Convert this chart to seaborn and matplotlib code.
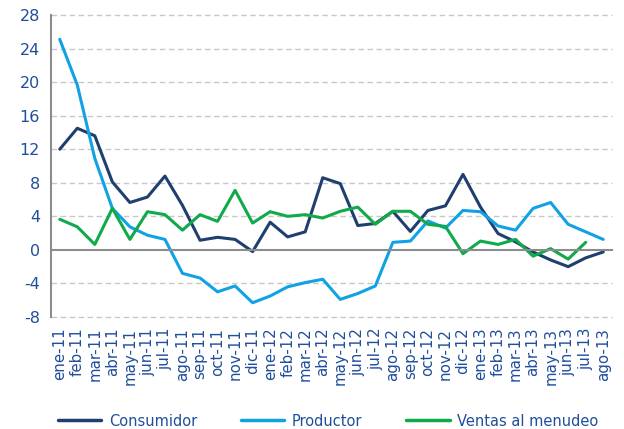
import matplotlib
matplotlib.use("Agg")
import matplotlib.pyplot as plt
import seaborn as sns
import pandas as pd
import numpy as np
from matplotlib.lines import Line2D

meses = ["ene-11", "feb-11", "mar-11", "abr-11", "may-11", "jun-11", "jul-11", "ago-11",
         "sep-11", "oct-11", "nov-11", "dic-11", "ene-12", "feb-12", "mar-12", "abr-12",
         "may-12", "jun-12", "jul-12", "ago-12", "sep-12", "oct-12", "nov-12", "dic-12",
         "ene-13", "feb-13", "mar-13", "abr-13", "may-13", "jun-13", "jul-13", "ago-13"]

consumidor = [12.0, 14.5, 13.6, 8.1, 5.65, 6.3, 8.8, 5.3, 1.15, 1.5, 1.25, -0.2,
              3.3, 1.55, 2.15, 8.6, 7.9, 2.9, 3.15, 4.6, 2.2, 4.7, 5.25, 9.0,
              5.1, 1.95, 0.95, -0.25, -1.2, -2.0, -0.95, -0.25]
productor = [25.1, 19.65, 10.9, 4.95, 2.75, 1.75, 1.25, -2.8, -3.35, -5.0, -4.3, -6.3,
             -5.5, -4.4, -3.9, -3.5, -5.9, -5.2, -4.3, 0.9, 1.05, 3.45, 2.6, 4.7,
             4.55, 2.85, 2.35, 4.95, 5.65, 3.05, 2.15, 1.25]
ventas = [3.65, 2.75, 0.65, 4.95, 1.25, 4.55, 4.2, 2.35, 4.2, 3.4, 7.1, 3.2,
          4.55, 4.0, 4.2, 3.8, 4.6, 5.1, 3.05, 4.6, 4.6, 3.05, 2.8, -0.45,
          1.05, 0.65, 1.25, -0.75, 0.15, -1.1, 0.9, np.nan]

series = ["Consumidor", "Productor", "Ventas al menudeo"]
colores = ["#1F3F6F", "#10A2E4", "#10AA4A"]
yticks = list(range(-8, 29, 4))

n = len(meses)
df = pd.DataFrame({
    "idx": list(range(n)) * 3,
    "valor": consumidor + productor + ventas,
    "serie": [series[0]] * n + [series[1]] * n + [series[2]] * n,
})

sns.set_style("white")
plt.rcParams["font.family"] = ["DejaVu Sans"]

fig = plt.figure(figsize=(6.24, 4.29), dpi=100)
ax = fig.add_axes([51 / 624, 1 - 317 / 429, (612 - 51) / 624, (317 - 15) / 429])

sns.lineplot(data=df, x="idx", y="valor", hue="serie", hue_order=series,
             palette=colores, linewidth=2.2, ax=ax, legend=False, sort=False)

ax.set_xlim(-0.5, n - 0.5)
ax.set_ylim(-8, 28)
ax.set_yticks(yticks)
ax.set_yticklabels([str(v) for v in yticks])
for y in yticks:
    if y != 0:
        ax.axhline(y, color="#C8C8C8", linestyle=(0, (4, 2.5)), linewidth=1.0,
                   zorder=0, clip_on=False)

tick_col = "#1F4E9C"
for s in ["top", "right"]:
    ax.spines[s].set_visible(False)
ax.spines["left"].set_color("#8C8C8C")
ax.spines["left"].set_linewidth(1.5)
ax.spines["bottom"].set_position(("data", 0))
ax.spines["bottom"].set_color("#8C8C8C")
ax.spines["bottom"].set_linewidth(1.5)

ax.set_xticks(range(n))
ax.set_xticklabels(meses, rotation=90, va="top", ha="center")
ax.set_xticks(np.arange(-0.5, n, 1.0), minor=True)
ax.tick_params(axis="x", which="major", length=0, pad=56, labelsize=10.8, labelcolor=tick_col)
ax.tick_params(axis="x", which="minor", length=4, width=1.2, color="#8C8C8C", direction="out")
ax.tick_params(axis="y", length=5, width=1.2, color="#8C8C8C", labelsize=11.5,
               labelcolor=tick_col, pad=3)
ax.set_xlabel("")
ax.set_ylabel("")

handles = [Line2D([0], [0], color=c, linewidth=2.5) for c in colores]
leg = fig.legend(handles, series, loc="center", bbox_to_anchor=(328 / 624, 1 - 421 / 429),
                 ncol=3, frameon=False, fontsize=10.5, handlelength=3.0,
                 handletextpad=0.5, columnspacing=3.0)
for t in leg.get_texts():
    t.set_color(tick_col)

fig.savefig("out.png", dpi=100)
